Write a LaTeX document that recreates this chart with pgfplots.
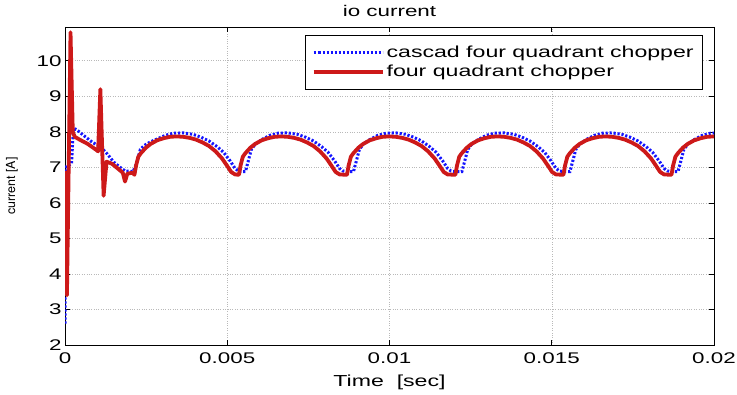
\documentclass[border=0pt]{standalone}
\usepackage{fontspec}
\setmainfont{Liberation Sans}[FakeStretch=1.45]
\newfontfamily\heros{TeX Gyre Heros}
\usepackage{graphicx}
\usepackage{pgfplots}
\pgfplotsset{compat=1.18}
\definecolor{mred}{RGB}{205,25,25}
\definecolor{mblue}{RGB}{20,20,255}

\begin{document}
\begin{tikzpicture}
\begin{axis}[
    width=649bp, height=318bp, scale only axis,
    xmin=0, xmax=0.02, ymin=2, ymax=10.95,
    xtick={0,0.005,0.01,0.015,0.02},
    xticklabels={0,0.005,0.01,0.015,0.02},
    scaled x ticks=false,
    ytick={2,3,4,5,6,7,8,9,10},
    /pgf/number format/assume math mode=true,
    tick label style={font=\fontsize{15.5}{15.5}\selectfont},
    xticklabel style={yshift=-4bp},
    tick align=inside, major tick length=5bp,
    tick style={black, line width=0.6bp},
    axis line style={black, line width=0.8bp},
    grid=major,
    grid style={gray!55, dotted, line width=0.5bp},
    title={io current},
    title style={font=\fontsize{15.5}{15.5}\selectfont, at={(axis description cs:0.5,1)}, anchor=center, yshift=10bp},
    xlabel={Time~~[sec]},
    xlabel style={font=\fontsize{16}{16}\selectfont, at={(axis description cs:0.5,0)}, anchor=center, yshift=-37bp},
    legend cell align=left,
    legend image code/.code={\path (0bp,0bp) -- (5bp,0bp); \draw[#1] (5bp,0bp) -- (69bp,0bp);},
    legend style={at={(axis description cs:1,1)}, anchor=north east,
        xshift=-11bp, yshift=-8bp, draw=black, line width=0.6bp,
        font=\fontsize{16}{20}\selectfont, inner xsep=7bp, inner ysep=9bp,
        row sep=2bp}
]
\addplot[mblue, line width=3bp, dash pattern=on 2.2bp off 1.8bp] coordinates {
(0,2.6) (0.00001,7.0) (0.0002,7.1) (0.00026,8.1) (0.00036,8.06) (0.0006,7.88)
(0.00085,7.7) (0.00108,7.59) (0.0013,7.38) (0.0015,7.15) (0.0017,7.0) (0.00185,6.9)
(0.0021,6.88) (0.0022,7.1) (0.00232,7.5) (0.00245,7.62) (0.00264,7.72) (0.00284,7.80)
(0.00309,7.90) (0.00334,7.96) (0.00364,7.97) (0.00394,7.93) (0.00419,7.85) (0.00444,7.74)
(0.00469,7.58) (0.00489,7.42) (0.00509,7.18) (0.00524,6.97) (0.00534,6.90)
(0.00536,6.88) (0.00556,6.88) (0.00564,7.15) (0.00574,7.50) (0.00586,7.65) (0.00606,7.78)
(0.00631,7.90) (0.00656,7.96) (0.00686,7.97) (0.00716,7.93) (0.00741,7.85) (0.00766,7.74)
(0.00791,7.58) (0.00811,7.42) (0.00831,7.18) (0.00846,6.97) (0.00856,6.90)
(0.00869,6.88) (0.00889,6.88) (0.00897,7.15) (0.00907,7.50) (0.00919,7.65) (0.00939,7.78)
(0.00964,7.90) (0.00989,7.96) (0.01019,7.97) (0.01049,7.93) (0.01074,7.85) (0.01099,7.74)
(0.01124,7.58) (0.01144,7.42) (0.01164,7.18) (0.01179,6.97) (0.01189,6.90)
(0.01203,6.88) (0.01223,6.88) (0.01231,7.15) (0.01241,7.50) (0.01253,7.65) (0.01273,7.78)
(0.01298,7.90) (0.01323,7.96) (0.01353,7.97) (0.01383,7.93) (0.01408,7.85) (0.01433,7.74)
(0.01458,7.58) (0.01478,7.42) (0.01498,7.18) (0.01513,6.97) (0.01523,6.90)
(0.01536,6.88) (0.01556,6.88) (0.01564,7.15) (0.01574,7.50) (0.01586,7.65) (0.01606,7.78)
(0.01631,7.90) (0.01656,7.96) (0.01686,7.97) (0.01716,7.93) (0.01741,7.85) (0.01766,7.74)
(0.01791,7.58) (0.01811,7.42) (0.01831,7.18) (0.01846,6.97) (0.01856,6.90)
(0.01869,6.88) (0.01889,6.88) (0.01897,7.15) (0.01907,7.50) (0.01919,7.65) (0.01939,7.78)
(0.01964,7.90) (0.01989,7.96) (0.02,7.965)
};
\addlegendentry{cascad four quadrant chopper}
\addplot[mred, line width=3.8bp, line join=round] coordinates {
(0,6.9) (0.00006,3.4) (0.00017,10.8) (0.00024,8.0) (0.0003,7.86) (0.00045,7.78)
(0.0007,7.66) (0.00095,7.5) (0.00102,7.45) (0.00109,9.2) (0.00119,6.2) (0.00128,7.16)
(0.00145,7.1) (0.00165,6.95) (0.00178,6.85) (0.00185,6.6) (0.00192,6.82) (0.00208,6.85)
(0.00214,6.79) (0.00219,7.05) (0.00226,7.30) (0.00234,7.40) (0.00249,7.55) (0.00264,7.66)
(0.00284,7.76) (0.00304,7.82) (0.00324,7.86) (0.00344,7.87) (0.00364,7.86) (0.00384,7.83)
(0.00404,7.78) (0.00424,7.70) (0.00444,7.60) (0.00464,7.45) (0.00484,7.25) (0.00499,7.05)
(0.00512,6.87) (0.00524,6.80)
(0.00536,6.79) (0.00541,7.05) (0.00548,7.30) (0.00556,7.40) (0.00571,7.55) (0.00586,7.66)
(0.00606,7.76) (0.00626,7.82) (0.00646,7.86) (0.00666,7.87) (0.00686,7.86) (0.00706,7.83)
(0.00726,7.78) (0.00746,7.70) (0.00766,7.60) (0.00786,7.45) (0.00806,7.25) (0.00821,7.05)
(0.00834,6.87) (0.00846,6.80)
(0.00869,6.79) (0.00874,7.05) (0.00881,7.30) (0.00889,7.40) (0.00904,7.55) (0.00919,7.66)
(0.00939,7.76) (0.00959,7.82) (0.00979,7.86) (0.00999,7.87) (0.01019,7.86) (0.01039,7.83)
(0.01059,7.78) (0.01079,7.70) (0.01099,7.60) (0.01119,7.45) (0.01139,7.25) (0.01154,7.05)
(0.01167,6.87) (0.01179,6.80)
(0.01203,6.79) (0.01208,7.05) (0.01215,7.30) (0.01223,7.40) (0.01238,7.55) (0.01253,7.66)
(0.01273,7.76) (0.01293,7.82) (0.01313,7.86) (0.01333,7.87) (0.01353,7.86) (0.01373,7.83)
(0.01393,7.78) (0.01413,7.70) (0.01433,7.60) (0.01453,7.45) (0.01473,7.25) (0.01488,7.05)
(0.01501,6.87) (0.01513,6.80)
(0.01536,6.79) (0.01541,7.05) (0.01548,7.30) (0.01556,7.40) (0.01571,7.55) (0.01586,7.66)
(0.01606,7.76) (0.01626,7.82) (0.01646,7.86) (0.01666,7.87) (0.01686,7.86) (0.01706,7.83)
(0.01726,7.78) (0.01746,7.70) (0.01766,7.60) (0.01786,7.45) (0.01806,7.25) (0.01821,7.05)
(0.01834,6.87) (0.01846,6.80)
(0.01869,6.79) (0.01874,7.05) (0.01881,7.30) (0.01889,7.40) (0.01904,7.55) (0.01919,7.66)
(0.01939,7.76) (0.01959,7.82) (0.01979,7.86) (0.01999,7.87) (0.02,7.87)
};
\addlegendentry{four quadrant chopper}
\end{axis}
\node[anchor=center, inner sep=0pt] at ([xshift=-53bp]current axis.west)
    {\rotatebox{90}{\heros\fontsize{12.5}{12.5}\selectfont current [A]}};
\pgfresetboundingbox
\path ([shift={(-65bp,-50bp)}]current axis.south west) rectangle ([shift={(23bp,27bp)}]current axis.north east);
\end{tikzpicture}
\end{document}
